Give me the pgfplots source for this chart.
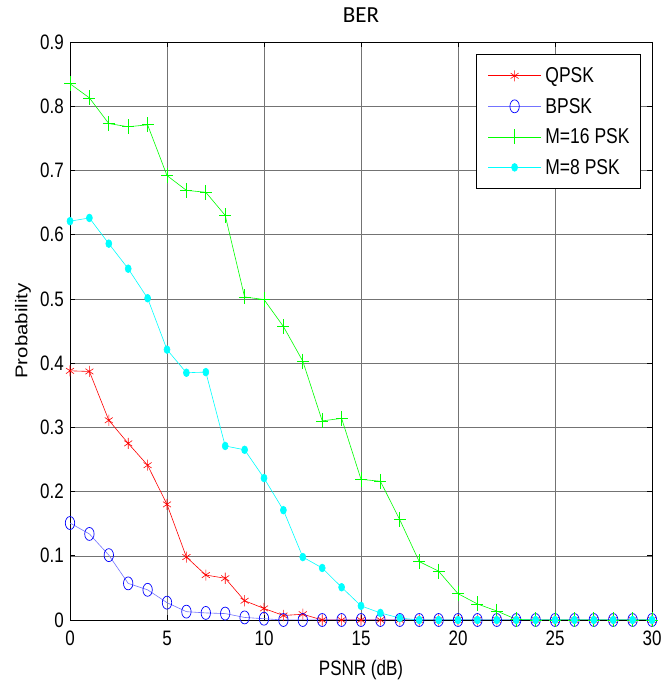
\documentclass[border=0pt]{standalone}
\usepackage{pgfplots}
\pgfplotsset{compat=1.18}
\usepackage{fontspec}
\setmainfont{Liberation Sans}
\newfontfamily\titlefont{Carlito}
\definecolor{mred}{RGB}{255,0,0}
\definecolor{mblue}{RGB}{0,0,255}
\definecolor{mgreen}{RGB}{0,255,0}
\definecolor{mcyan}{RGB}{0,255,255}
\newcommand{\st}[1]{\scalebox{1}[1.23]{#1}}
\begin{document}
\begin{tikzpicture}[font=\fontsize{17}{20}\selectfont]
\begin{axis}[
  name=ax,
  scale only axis, width=582pt, height=578pt,
  xmin=0, xmax=30, ymin=0, ymax=0.9,
  xtick={0,5,...,30}, ytick={0,0.1,...,0.9},
  xticklabel={\st{\pgfmathprintnumber[assume math mode=true]{\tick}}},
  yticklabel={\st{\pgfmathprintnumber[fixed,precision=1,assume math mode=true]{\tick}}},
  xticklabel style={inner sep=0pt, yshift=-11pt},
  yticklabel style={inner sep=0pt, xshift=-6pt},
  tick align=inside, tick pos=both,
  major tick length=5pt,
  grid=major, major grid style={black!55, line width=0.5pt},
  axis line style={black, line width=0.9pt},
  tick style={black, line width=0.6pt},
  title={\titlefont\fontsize{23}{26}\selectfont BER},
  title style={at={(0.5,1)}, anchor=south, yshift=13pt, inner sep=0pt},
  xlabel={\st{PSNR (dB)}}, ylabel={\scalebox{1.2}[1]{Probability}},
  xlabel style={at={(0.5,-0.0692)}, anchor=north, inner sep=0pt},
  ylabel style={at={(-0.081,0.5)}, anchor=center, inner sep=0pt},
  legend style={at={(0.981,0.979)}, anchor=north east, draw=black, line width=0.8pt,
    row sep=14pt, column sep=4pt, inner xsep=11pt, inner ysep=13pt,
    font=\fontsize{17.5}{20}\selectfont,
    nodes={inner sep=0pt, anchor=west}},
  legend cell align=left,
  legend image code/.code={\draw[mark repeat=2,mark phase=2,#1,draw=.] plot coordinates {(0pt,0pt) (26.5pt,0pt) (53pt,0pt)};},
  every axis plot/.append style={line width=0.6pt},
]
\addplot[mred, mark=asterisk, mark size=4.6pt, mark options={line width=0.6pt, yscale=1.2}] coordinates {
(0,0.388)(1,0.387)(2,0.311)(3,0.275)(4,0.241)(5,0.180)(6,0.098)(7,0.070)(8,0.065)(9,0.030)
(10,0.018)(11,0.007)(12,0.009)(13,0)(14,0)(15,0)(16,0)(17,0)(18,0)(19,0)(20,0)
(21,0)(22,0)(23,0)(24,0)(25,0)(26,0)(27,0)(28,0)(29,0)(30,0)};
\addlegendentry{\st{QPSK}}
\addplot[mblue!55, mark=o, mark size=4.7pt, mark options={draw=mblue, line width=0.7pt, yscale=1.38}] coordinates {
(0,0.151)(1,0.134)(2,0.101)(3,0.057)(4,0.047)(5,0.027)(6,0.013)(7,0.011)(8,0.010)(9,0.004)
(10,0.002)(11,0)(12,0)(13,0)(14,0)(15,0)(16,0)(17,0)(18,0)(19,0)(20,0)
(21,0)(22,0)(23,0)(24,0)(25,0)(26,0)(27,0)(28,0)(29,0)(30,0)};
\addlegendentry{\st{BPSK}}
\addplot[mgreen, mark=+, mark size=6pt, mark options={line width=0.7pt, yscale=1.25}] coordinates {
(0,0.835)(1,0.813)(2,0.773)(3,0.768)(4,0.771)(5,0.692)(6,0.669)(7,0.666)(8,0.630)(9,0.503)
(10,0.499)(11,0.457)(12,0.403)(13,0.310)(14,0.314)(15,0.219)(16,0.216)(17,0.156)(18,0.091)(19,0.076)
(20,0.041)(21,0.025)(22,0.014)(23,0.001)(24,0)(25,0)(26,0)(27,0)(28,0)(29,0)(30,0)};
\addlegendentry{\st{M=16 PSK}}
\addplot[mcyan, mark=*, mark size=3pt, mark options={draw=mcyan, fill=mcyan, yscale=1.3}] coordinates {
(0,0.621)(1,0.626)(2,0.586)(3,0.547)(4,0.501)(5,0.421)(6,0.385)(7,0.386)(8,0.271)(9,0.265)
(10,0.221)(11,0.171)(12,0.098)(13,0.081)(14,0.051)(15,0.022)(16,0.011)(17,0.003)(18,0)(19,0)
(20,0)(21,0)(22,0)(23,0)(24,0)(25,0)(26,0)(27,0)(28,0)(29,0)(30,0)};
\addlegendentry{\st{M=8 PSK}}
\end{axis}
\path (ax.south west) ++(-70pt,-62pt) rectangle ([shift={(7pt,42pt)}]ax.north east);
\end{tikzpicture}
\end{document}
